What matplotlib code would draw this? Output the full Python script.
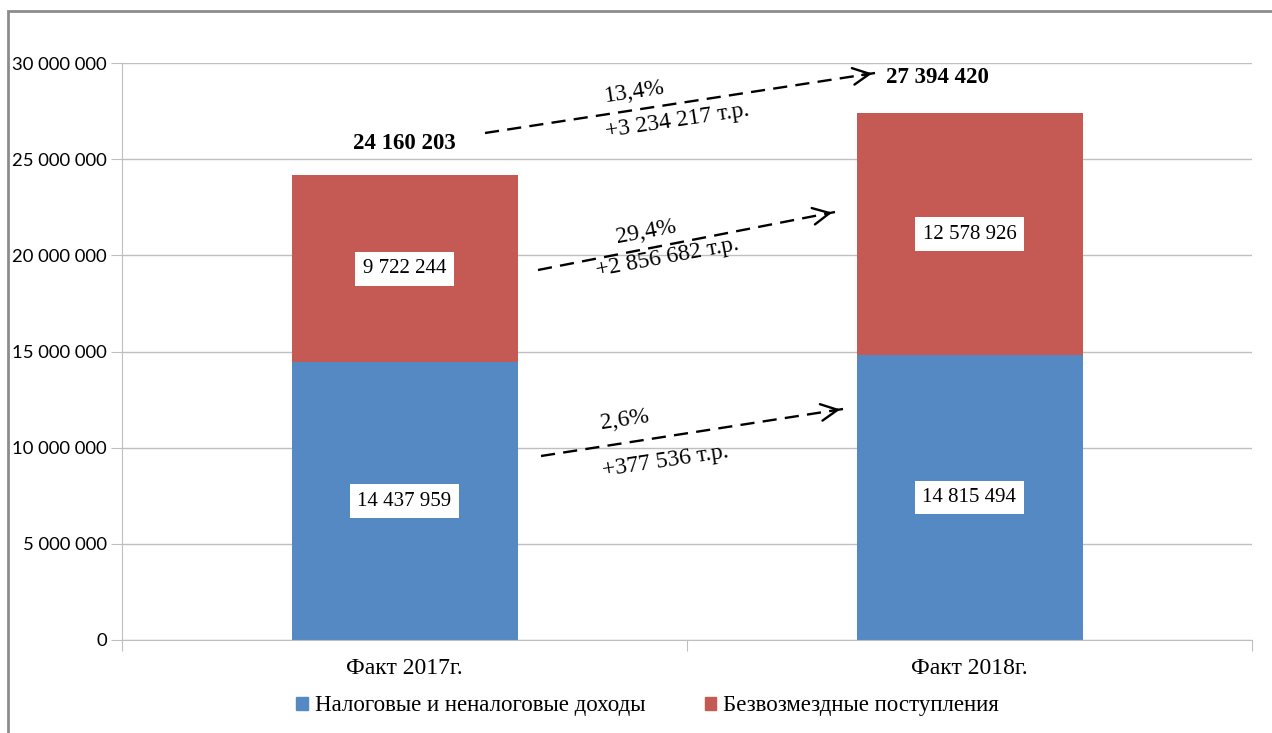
import matplotlib.pyplot as plt
from matplotlib.patches import Rectangle, FancyArrowPatch
from matplotlib.ticker import FuncFormatter

categories = ['Факт 2017г.', 'Факт 2018г.']
series_names = ['Налоговые и неналоговые доходы', 'Безвозмездные поступления']
tax_income = [14437959, 14815494]
grants = [9722244, 12578926]
totals = [24160203, 27394420]
growth_pct = ['13,4%', '29,4%', '2,6%']
growth_abs = ['+3 234 217 т.р.', '+2 856 682 т.р.', '+377 536 т.р.']

blue = '#5589C4'
red = '#C55A55'
grid_col = '#BFBFBF'
serif = 'Liberation Serif'
W, H = 1272, 733


def fmt(v):
    return f'{int(v):,}'.replace(',', ' ')


fig = plt.figure(figsize=(W / 100, H / 100), dpi=100)
ax = fig.add_axes([122 / W, 1 - 640 / H, 1130 / W, 577 / H])

x = list(range(len(categories)))
ax.bar(x, tax_income, width=0.4, color=blue, zorder=2)
ax.bar(x, grants, width=0.4, bottom=tax_income, color=red, zorder=2)

ax.set_xlim(-0.5, 1.5)
ax.set_ylim(0, 30000000)
ax.set_yticks(range(0, 30000001, 5000000))
ax.yaxis.set_major_formatter(FuncFormatter(lambda v, p: fmt(v)))
ax.grid(axis='y', color=grid_col, lw=1, zorder=0)
for s in ['top', 'right']:
    ax.spines[s].set_visible(False)
for s in ['left', 'bottom']:
    ax.spines[s].set_color(grid_col)
ax.tick_params(axis='y', length=8, color=grid_col, labelsize=13.3, pad=3)
for t in ax.get_yticklabels():
    t.set_family('Lato')

ax.set_xticks([-0.5, 0.5, 1.5])
ax.set_xticklabels([])
ax.tick_params(axis='x', which='major', length=8, color=grid_col)
ax.set_xticks(x, minor=True)
ax.set_xticklabels(categories, minor=True, family=serif, fontsize=17)
ax.tick_params(axis='x', which='minor', length=0, pad=13)

box = dict(boxstyle='square,pad=0.35', fc='white', ec='none')
for i in x:
    ax.text(i, tax_income[i] / 2, fmt(tax_income[i]), ha='center', va='center',
            family=serif, fontsize=15, bbox=box, zorder=3)
    ax.text(i, tax_income[i] + grants[i] / 2, fmt(grants[i]), ha='center', va='center',
            family=serif, fontsize=15, bbox=box, zorder=3)

ax.text(0, totals[0] + 1650000, fmt(totals[0]), ha='center', va='center',
        family=serif, fontsize=16.5, fontweight='bold')
ax.text(0.944, totals[1] + 1870000, fmt(totals[1]), ha='center', va='center',
        family=serif, fontsize=16.5, fontweight='bold')


def px(xp, yp):
    return (xp / W, 1 - yp / H)


# growth arrows: start/end in pixels, label positions and angle
arrows = [
    ((485, 133), (875, 73), (635, 92), (677, 121), 8.5),
    ((538, 270), (835, 212), (646, 232), (667, 257), 10.5),
    ((541, 456), (843, 409), (625, 420), (665, 461), 8.5),
]
for k, (p0, p1, tp, ta, ang) in enumerate(arrows):
    a, b = px(*p0), px(*p1)
    fig.add_artist(plt.Line2D([a[0], b[0]], [a[1], b[1]], transform=fig.transFigure,
                              color='black', lw=1.7, dashes=(6, 3.5)))
    dx, dy = b[0] - a[0], b[1] - a[1]
    c = (b[0] - dx * 0.04, b[1] - dy * 0.04)
    fig.add_artist(FancyArrowPatch(
        c, b, transform=fig.transFigure, arrowstyle='->', mutation_scale=30,
        color='black', lw=1.7))
    fig.text(*px(*tp), growth_pct[k], ha='center', va='center', rotation=ang,
             family=serif, fontsize=17)
    fig.text(*px(*ta), growth_abs[k], ha='center', va='center', rotation=ang,
             family=serif, fontsize=17)

handles = [Rectangle((0, 0), 1, 1, color=blue), Rectangle((0, 0), 1, 1, color=red)]
fig.legend(handles, series_names, loc='center', bbox_to_anchor=(0.509, 1 - 706 / H),
           ncol=2, frameon=False, prop={'family': serif, 'size': 16.5},
           handlelength=0.5, handleheight=0.5, handletextpad=0.3, columnspacing=2.6)

fig.add_artist(Rectangle((8 / W, -0.1), 1.2, 1 - 11 / H + 0.1, transform=fig.transFigure,
                         fill=False, ec='#8C8C8C', lw=2))

fig.savefig('out.png', dpi=100)
